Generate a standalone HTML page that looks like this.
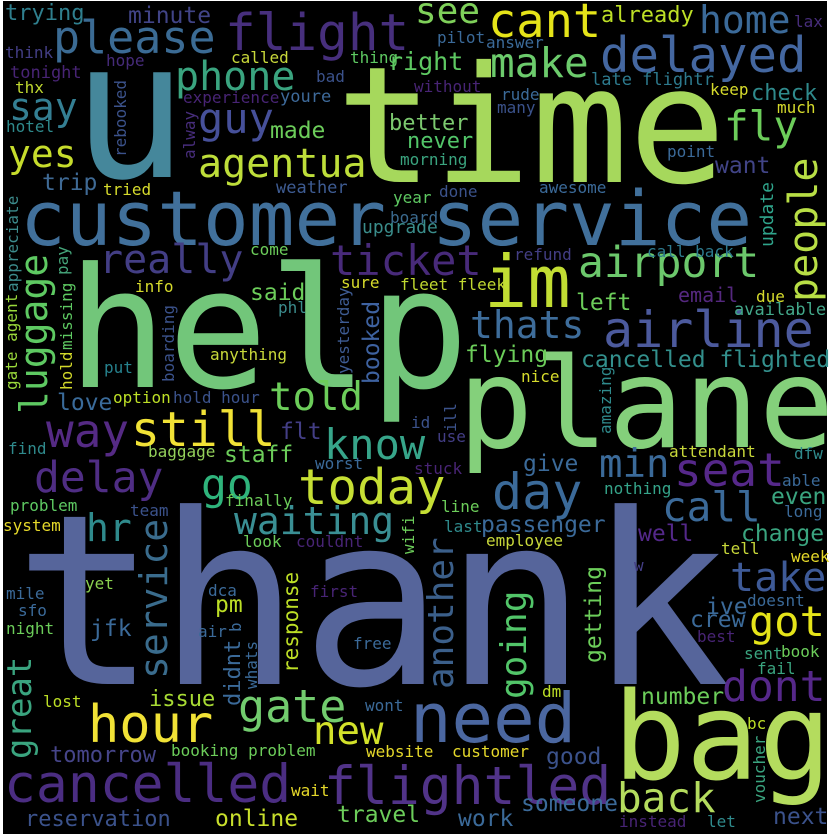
<!DOCTYPE html>
<html><head><meta charset="utf-8"><style>
html,body{margin:0;padding:0;background:#fff;}
svg{display:block;}
text{font-family:"DejaVu Sans Mono","Liberation Mono",monospace;}
</style></head>
<body>
<svg id="cloud" width="836" height="834" viewBox="0 0 836 834" xmlns="http://www.w3.org/2000/svg">
<rect x="3" y="1" width="824" height="833" fill="#000"/>
</svg>
<script>
// word, x, baseline y, font size, color, rotation (0 or -90)
const words = [
["thank",14,684,238,"#56659b",0],
["help",67,387,167,"#72c67a",0],
["time",336,182,162,"#a6d85c",0],
["plane",458,447,125,"#84d07b",0],
["u",72,177,192,"#45879b",0],
["customer service",20,245,76,"#41709b",0],
["bag",613,779,121,"#b4dc5e",0],
["need",410,742,69,"#4b67a0",0],
["cancelled",4,802,53,"#4b2d82",0],
["flightled",324,804,53,"#513388",0],
["flight",225,50,51,"#472f7d",0],
["please",53,53,45,"#3b6b94",0],
["phone",175,90,40,"#3aa47f",0],
["delayed",600,72,49,"#4467a0",0],
["cant",488,37,47,"#e5e419",0],
["make",490,77,41,"#6ccb6c",0],
["see",415,23,36,"#7fd05a",0],
["home",699,33,38,"#3b6a99",0],
["fly",724,140,41,"#6ccd5a",0],
["say",9,120,38,"#347f93",0],
["yes",8,167,38,"#c6dc2c",0],
["guy",198,133,42,"#46509a",0],
["agentua",198,177,40,"#bede3a",0],
["really",99,273,40,"#433e85",0],
["ticket",330,275,42,"#482a7a",0],
["airport",578,277,43,"#6cc86c",0],
["im",484,307,72,"#c2dd33",0],
["airline",603,347,50,"#4c5a9d",0],
["thats",470,338,38,"#3e6d9b",0],
["still",131,446,48,"#f1e236",0],
["told",269,410,39,"#6ccd5a",0],
["way",46,447,46,"#552a84",0],
["know",324,459,42,"#37a58a",0],
["delay",34,492,43,"#4f2d84",0],
["go",201,499,43,"#2fb47c",0],
["today",298,504,49,"#c6df34",0],
["day",492,509,50,"#3b6a99",0],
["seat",674,486,46,"#56288a",0],
["min",599,477,39,"#3b6a99",0],
["call",662,521,41,"#3b6a99",0],
["hr",86,541,38,"#2f8a8c",0],
["waiting",234,534,38,"#3a8f94",0],
["take",730,591,40,"#3e5a97",0],
["got",749,636,42,"#e5e419",0],
["dont",722,701,43,"#56288a",0],
["hour",88,742,52,"#f1e236",0],
["gate",238,722,45,"#72cc6e",0],
["new",313,744,39,"#d2e12a",0],
["back",617,812,41,"#b4dc5e",0],
["trying",5,20,22,"#2f7f8e",0],
["minute",128,23,23,"#414487",0],
["already",601,22,22,"#bddf26",0],
["lax",794,27,16,"#472d7b",0],
["pilot",437,43,16,"#3b6a99",0],
["answer",486,48,16,"#3b6a99",0],
["think",5,58,16,"#433e85",0],
["hope",106,66,16,"#462b7a",0],
["called",231,63,16,"#c8d83a",0],
["thing",350,63,16,"#5ec962",0],
["right",388,70,25,"#5ec962",0],
["tonight",10,78,17,"#482475",0],
["bad",316,82,16,"#3b528b",0],
["late flightr",591,85,17,"#2d7a8e",0],
["without",414,92,16,"#482475",0],
["thx",15,93,16,"#c0d830",0],
["keep",710,95,16,"#d6db2c",0],
["check",751,100,22,"#2f8a8c",0],
["rude",501,100,16,"#3b6a99",0],
["youre",280,102,17,"#3e6a9a",0],
["experience",183,103,16,"#482475",0],
["many",497,113,16,"#3b528b",0],
["much",777,113,16,"#d6db2c",0],
["better",389,130,22,"#7cc96f",0],
["hotel",6,132,16,"#2f8a8c",0],
["made",270,138,23,"#6ccd5a",0],
["never",407,148,22,"#52c569",0],
["point",667,157,16,"#3b6a99",0],
["morning",400,165,16,"#3aa47f",0],
["want",715,173,23,"#414487",0],
["trip",42,190,23,"#3f6a95",0],
["tried",103,195,16,"#d6db2c",0],
["weather",276,193,17,"#3e5c93",0],
["awesome",539,193,16,"#3b6a99",0],
["done",439,197,16,"#3b528b",0],
["year",393,203,16,"#5ec962",0],
["board",390,223,16,"#3b6a8f",0],
["upgrade",362,233,18,"#3a8d8b",0],
["come",250,255,16,"#6ccd5a",0],
["call back",647,257,16,"#2d7a8e",0],
["refund",514,260,16,"#433e85",0],
["info",135,292,16,"#d6db2c",0],
["sure",341,288,16,"#d6db2c",0],
["fleet fleek",400,290,16,"#c0d830",0],
["said",250,300,23,"#6ccd5a",0],
["email",678,302,20,"#55287f",0],
["due",756,302,16,"#d6db2c",0],
["left",576,310,23,"#6ccd5a",0],
["phl",278,313,16,"#3b8b8c",0],
["available",734,315,17,"#43a88a",0],
["anything",210,360,16,"#c8d83a",0],
["flying",465,362,23,"#6ccd5a",0],
["cancelled flighted",581,367,23,"#33908d",0],
["put",104,373,16,"#26828e",0],
["nice",521,382,16,"#d6db2c",0],
["option",113,403,16,"#bddf26",0],
["hold hour",173,403,16,"#3b528b",0],
["love",57,410,23,"#3a6b9a",0],
["id",411,428,16,"#3b528b",0],
["flt",280,439,23,"#433e85",0],
["use",437,442,16,"#433e85",0],
["find",8,454,16,"#2f8a8c",0],
["baggage",148,457,16,"#94d15a",0],
["attendant",669,457,16,"#c8d83a",0],
["dfw",794,459,16,"#2f8a8c",0],
["staff",224,462,23,"#6ccd5a",0],
["worst",315,469,16,"#3b6a99",0],
["give",523,471,23,"#3b6a99",0],
["stuck",414,474,16,"#482475",0],
["able",782,486,16,"#3b6a99",0],
["nothing",604,494,16,"#35a48a",0],
["even",771,504,23,"#3aa47f",0],
["finally",225,506,16,"#6ccd5a",0],
["problem",10,511,16,"#5ec962",0],
["line",441,512,16,"#6ccd5a",0],
["team",130,516,16,"#3b528b",0],
["long",784,517,16,"#3b6a99",0],
["system",3,531,16,"#e5d82a",0],
["last",444,532,16,"#2f8a8c",0],
["passenger",481,532,23,"#3b6a99",0],
["well",638,541,23,"#54288a",0],
["change",741,541,23,"#3aa47f",0],
["employee",486,546,16,"#c8d83a",0],
["look",243,547,16,"#6ccd5a",0],
["couldnt",296,547,16,"#482475",0],
["tell",721,554,16,"#c8d83a",0],
["week",791,562,16,"#e5d82a",0],
["w",634,571,16,"#433e85",0],
["yet",85,589,16,"#8bd24f",0],
["dca",208,596,16,"#3b6a99",0],
["first",310,597,16,"#482475",0],
["mile",6,599,16,"#3b6a99",0],
["doesnt",747,606,16,"#3b6a99",0],
["pm",215,612,23,"#bddf26",0],
["ive",706,614,23,"#3b6a99",0],
["sfo",18,616,16,"#3b6a99",0],
["crew",690,627,23,"#3b6a99",0],
["night",6,634,16,"#6ccd5a",0],
["jfk",90,636,23,"#3b6a99",0],
["air",198,637,16,"#3b6a99",0],
["best",697,642,16,"#482475",0],
["free",353,649,16,"#3b6a99",0],
["book",781,657,16,"#6ccd5a",0],
["sent",744,659,16,"#3aa47f",0],
["fail",757,674,16,"#3aa47f",0],
["dm",542,697,16,"#bddf26",0],
["number",641,704,23,"#6ccd5a",0],
["issue",149,706,22,"#a8db34",0],
["lost",43,707,16,"#bddf26",0],
["wont",365,711,16,"#3b6a99",0],
["bc",747,729,16,"#bddf26",0],
["booking problem",171,756,16,"#6ccd5a",0],
["customer",452,757,16,"#e5d82a",0],
["website",366,757,16,"#e5d82a",0],
["tomorrow",50,762,22,"#46458a",0],
["good",546,764,23,"#3b528b",0],
["wait",291,796,16,"#e5d82a",0],
["someone",521,811,23,"#3b6a99",0],
["travel",337,822,23,"#6ccd5a",0],
["next",773,824,23,"#3b528b",0],
["reservation",25,826,22,"#3b528b",0],
["online",215,826,23,"#c8df2c",0],
["work",458,826,23,"#3b6a99",0],
["instead",619,827,16,"#482475",0],
["let",707,827,16,"#2f8a8c",0],
// vertical words: x = baseline x, y = bottom (start) of word
["luggage",47,414,38,"#5ec962",-90],
["people",817,302,40,"#b8de45",-90],
["service",167,679,38,"#3a6c8d",-90],
["another",453,689,36,"#3b5f8a",-90],
["going",526,699,36,"#52c569",-90],
["getting",601,663,23,"#6ccd5a",-90],
["great",31,759,34,"#3aa47f",-90],
["response",298,673,21,"#bddf26",-90],
["didnt",240,706,22,"#3b6a99",-90],
["whats",257,689,16,"#3b6a99",-90],
["b",241,632,16,"#3b6a99",-90],
["wifi",414,554,16,"#6ccd5a",-90],
["rebooked",126,157,16,"#3b528b",-90],
["alway",195,159,16,"#472d7b",-90],
["appreciate",18,292,16,"#3c8b8c",-90],
["gate agent",17,390,16,"#9ad93b",-90],
["pay",68,275,16,"#45a57a",-90],
["hold",72,390,16,"#d2d82a",-90],
["missing",72,350,16,"#5ec962",-90],
["boarding",174,382,16,"#3b528b",-90],
["yesterday",349,374,16,"#3e5c94",-90],
["booked",379,384,23,"#3e62a0",-90],
["update",773,247,18,"#2fa48b",-90],
["amazing",611,434,16,"#2f8a8c",-90],
["ill",456,432,16,"#3b528b",-90],
["voucher",765,803,16,"#3aa47f",-90]
];
const svg = document.getElementById('cloud');
const NS = 'http://www.w3.org/2000/svg';
for (const w of words) {
  const t = document.createElementNS(NS, 'text');
  
  
  t.setAttribute('x', w[1]);
  t.setAttribute('y', w[2]);
  t.setAttribute('font-size', w[3]);
  t.setAttribute('fill', w[4]);
  if (w[5]) t.setAttribute('transform', 'rotate(' + w[5] + ' ' + w[1] + ' ' + w[2] + ')');
  t.textContent = w[0];
  svg.appendChild(t);
}
</script>
</body></html>
